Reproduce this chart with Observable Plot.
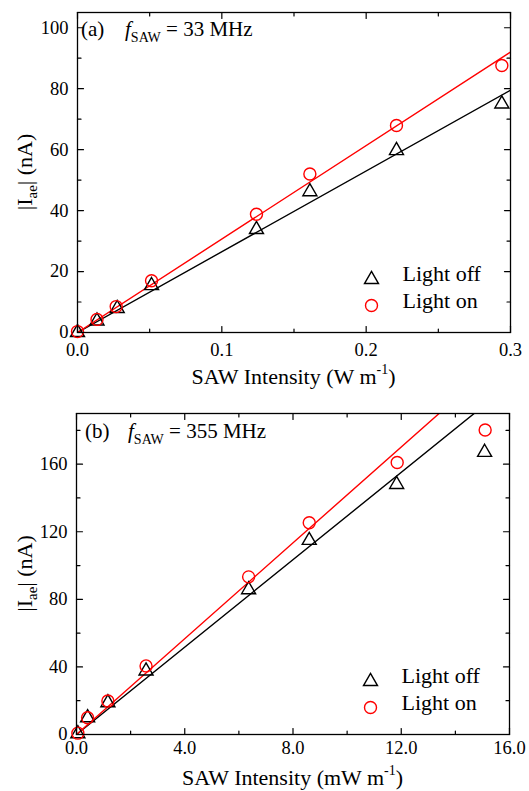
<!DOCTYPE html>
<html><head><meta charset="utf-8">
<script src="https://cdn.jsdelivr.net/npm/d3@7"></script>
<script src="https://cdn.jsdelivr.net/npm/@observablehq/plot@0.6"></script>
<style>body{margin:0;background:#fff} svg{display:block}</style>
</head><body><div id="chart"></div>
<script>
// ---------- Panel (a): f_SAW = 33 MHz ----------
const aIntensityOff = [0, 0.0135, 0.0275, 0.0513, 0.124, 0.161, 0.221, 0.294];
const aLightOff     = [0, 3.8, 7.9, 15.4, 33.8, 46.2, 59.7, 75.0];
const aIntensityOn  = [0, 0.0135, 0.0268, 0.0513, 0.124, 0.161, 0.221, 0.294];
const aLightOn      = [0.3, 4.3, 8.5, 17.0, 38.8, 52.0, 67.9, 87.6];
const aFitX   = [0, 0.3];
const aFitOff = [0, 79.5];
const aFitOn  = [0, 92];
const aXMajor = [0, 0.1, 0.2, 0.3];
const aXMinor = [0.05, 0.15, 0.25];
const aYMajor = [0, 20, 40, 60, 80, 100];
const aYMinor = [10, 30, 50, 70, 90];
const aTag = "(a)", aFreq = " = 33 MHz", aUnit = "W";

// ---------- Panel (b): f_SAW = 355 MHz ----------
const bIntensityOff = [0.05, 0.41, 1.16, 2.57, 6.36, 8.6, 11.83, 15.08];
const bLightOff     = [0.5, 9.9, 18.8, 37.6, 85.7, 114.9, 148, 167];
const bIntensityOn  = [0.05, 0.41, 1.16, 2.57, 6.36, 8.6, 11.85, 15.1];
const bLightOn      = [0.8, 9.9, 19.8, 40.6, 93.3, 125.3, 161, 180.2];
const bFitX   = [0, 16];
const bFitOff = [0, 206.9];
const bFitOn  = [0, 226.9];
const bXMajor = [0, 4, 8, 12, 16];
const bXMinor = [2, 6, 10, 14];
const bYMajor = [0, 40, 80, 120, 160];
const bYMinor = [20, 60, 100, 140, 180];
const bTag = "(b)", bFreq = " = 355 MHz", bUnit = "mW";

const legendLabels = ["Light off", "Light on"];
const RED = "#ff0000";
const FONT = "Liberation Serif, Times New Roman, serif";

// a plain line shape for inward tick vectors
const tickLine = {draw(ctx, l) { ctx.moveTo(0, 0); ctx.lineTo(0, -l); }};

function ticks(values, dim, side, len) {
  const rotate = {bottom: 0, top: 180, left: 90, right: 270}[side];
  return Plot.vector(values, {
    [dim]: d => d, frameAnchor: side, length: len, rotate, anchor: "start",
    shape: tickLine, stroke: "black", strokeWidth: 1.2
  });
}

function makePanel(o) {
  const off = o.xOff.map((x, i) => ({x, y: o.yOff[i]}));
  const on = o.xOn.map((x, i) => ({x, y: o.yOn[i]}));
  const fitOff = o.fitX.map((x, i) => ({x, y: o.fitOff[i]}));
  const fitOn = o.fitX.map((x, i) => ({x, y: o.fitOn[i]}));
  const svg = Plot.plot({
    width: 529, height: o.height,
    marginTop: o.mt, marginBottom: o.mb, marginLeft: o.ml, marginRight: o.mr,
    style: {fontFamily: FONT, fontSize: "18.5px", color: "black", background: "white"},
    x: {domain: o.xDomain},
    y: {domain: o.yDomain},
    marks: [
      Plot.line(fitOff, {x: "x", y: "y", stroke: "black", strokeWidth: 1.4, clip: true}),
      Plot.line(fitOn, {x: "x", y: "y", stroke: RED, strokeWidth: 1.4, clip: true}),
      Plot.dot(off, {x: "x", y: "y", symbol: "triangle", r: 5.2, stroke: "black", strokeWidth: 1.4, fill: "none"}),
      Plot.dot(on, {x: "x", y: "y", symbol: "circle", r: 6, stroke: RED, strokeWidth: 1.4, fill: "none"}),
      // legend
      Plot.dot([legendLabels[0]], {frameAnchor: "bottom-right", dx: -139, dy: -53, symbol: "triangle", r: 5.2, stroke: "black", strokeWidth: 1.4, fill: "none"}),
      Plot.dot([legendLabels[1]], {frameAnchor: "bottom-right", dx: -139, dy: -27, symbol: "circle", r: 6, stroke: RED, strokeWidth: 1.4, fill: "none"}),
      Plot.text([legendLabels[0]], {text: d => d, frameAnchor: "bottom-right", dx: -108, dy: -52, textAnchor: "start", fontSize: 22, fontFamily: FONT, fill: "black"}),
      Plot.text([legendLabels[1]], {text: d => d, frameAnchor: "bottom-right", dx: -108, dy: -25, textAnchor: "start", fontSize: 22, fontFamily: FONT, fill: "black"}),
      // inward ticks on all four sides
      ticks(o.xMajor, "x", "bottom", 6), ticks(o.xMinor, "x", "bottom", 3.5),
      ticks(o.xMajor, "x", "top", 6),    ticks(o.xMinor, "x", "top", 3.5),
      ticks(o.yMajor, "y", "left", 6),   ticks(o.yMinor, "y", "left", 3.5),
      ticks(o.yMajor, "y", "right", 6),  ticks(o.yMinor, "y", "right", 3.5),
      // tick labels
      Plot.axisX(o.xMajor, {anchor: "bottom", tickSize: 0, tickPadding: o.xPad, tickFormat: d3.format(".1f"), label: null, fontFamily: FONT}),
      Plot.axisY(o.yMajor, {anchor: "left", tickSize: 0, tickPadding: 9, tickFormat: d3.format("d"), label: null, fontFamily: FONT}),
      Plot.frame({stroke: "black", strokeWidth: 1.3})
    ]
  });
  const s = d3.select(svg);
  const fl = o.ml, fr = 529 - o.mr, ft = o.mt, fb = o.height - o.mb;
  const base = t => t.attr("font-family", FONT).attr("fill", "black").attr("font-size", 22);
  // x label with superscript
  const xl = base(s.append("text")).attr("x", (fl + fr) / 2).attr("y", fb + o.xLabelGap).attr("text-anchor", "middle");
  xl.append("tspan").text("SAW Intensity (" + o.unit + " m");
  xl.append("tspan").attr("dy", -10).attr("font-size", 14).text("-1");
  xl.append("tspan").attr("dy", 10).text(")");
  // y label with subscript
  const yl = base(s.append("text")).attr("transform", `translate(32,${(ft + fb) / 2}) rotate(-90)`).attr("text-anchor", "middle");
  yl.append("tspan").text("|I");
  yl.append("tspan").attr("dy", 5).attr("font-size", 15).text("ae");
  yl.append("tspan").attr("dy", -5).text("| (nA)");
  // panel annotation
  base(s.append("text")).attr("x", o.tagX).attr("y", ft + o.tagGap).attr("font-size", 21).attr("text-anchor", "start").text(o.tag);
  const ann = base(s.append("text")).attr("x", o.fX).attr("y", ft + o.tagGap).attr("font-size", 21).attr("text-anchor", "start");
  ann.append("tspan").attr("font-style", "italic").text("f");
  ann.append("tspan").attr("dy", 6).attr("font-size", 14).text("SAW");
  ann.append("tspan").attr("dy", -6).text(o.freq);
  return svg;
}

const chart = document.getElementById("chart");
chart.appendChild(makePanel({
  height: 398, mt: 12, mb: 66, ml: 77, mr: 19,
  xDomain: [0, 0.3], yDomain: [0, 105],
  xOff: aIntensityOff, yOff: aLightOff, xOn: aIntensityOn, yOn: aLightOn,
  fitX: aFitX, fitOff: aFitOff, fitOn: aFitOn,
  xMajor: aXMajor, xMinor: aXMinor, yMajor: aYMajor, yMinor: aYMinor,
  xPad: 10, xLabelGap: 52, unit: aUnit,
  tag: aTag, tagX: 81, fX: 125, tagGap: 24, freq: aFreq
}));
chart.appendChild(makePanel({
  height: 393, mt: 15, mb: 57, ml: 76, mr: 20,
  xDomain: [0, 16], yDomain: [0, 190],
  xOff: bIntensityOff, yOff: bLightOff, xOn: bIntensityOn, yOn: bLightOn,
  fitX: bFitX, fitOff: bFitOff, fitOn: bFitOn,
  xMajor: bXMajor, xMinor: bXMinor, yMajor: bYMajor, yMinor: bYMinor,
  xPad: 6, xLabelGap: 51, unit: bUnit,
  tag: bTag, tagX: 85, fX: 128, tagGap: 25, freq: bFreq
}));
</script>
</body></html>
